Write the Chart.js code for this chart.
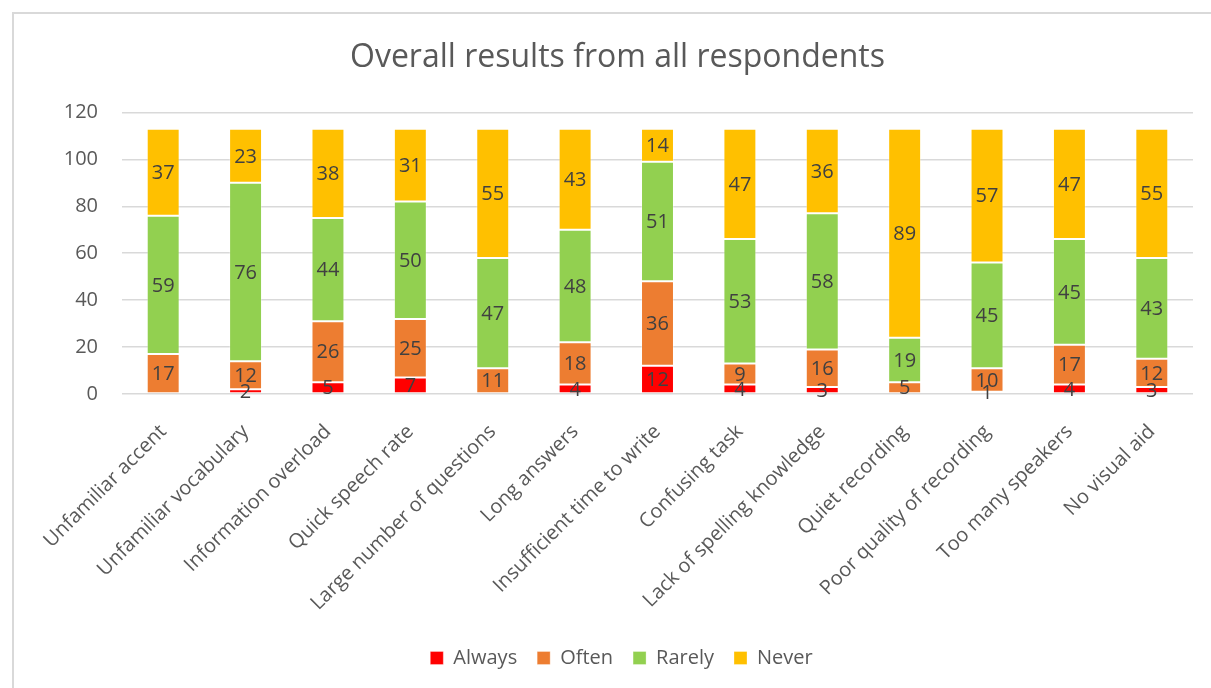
<!DOCTYPE html>
<html lang="en">
<head>
    <meta charset="UTF-8">
    <title>Overall results from all respondents</title>
    <script src="https://cdn.jsdelivr.net/npm/chart.js@4.4.1/dist/chart.umd.min.js"></script>
    <style>
        html, body { margin: 0; padding: 0; background: #fff; overflow: hidden; }
        #wrap { position: relative; width: 1211px; height: 688px; }
        #frame { position: absolute; left: 12px; top: 12px; width: 1300px; height: 800px;
                 border: 2px solid #d9d9d9; pointer-events: none; }
    </style>
</head>
<body>
    <div id="wrap">
        <canvas id="resultsChart" width="1211" height="688"></canvas>
        <div id="frame"></div>
    </div>

    <script>
        // values
        const categories = [
            'Unfamiliar accent', 'Unfamiliar vocabulary', 'Information overload',
            'Quick speech rate', 'Large number of questions', 'Long answers',
            'Insufficient time to write', 'Confusing task', 'Lack of spelling knowledge',
            'Quiet recording', 'Poor quality of recording', 'Too many speakers', 'No visual aid'
        ];
        const always = [0, 2, 5, 7, 0, 4, 12, 4, 3, 0, 1, 4, 3];
        const often  = [17, 12, 26, 25, 11, 18, 36, 9, 16, 5, 10, 17, 12];
        const rarely = [59, 76, 44, 50, 47, 48, 51, 53, 58, 19, 45, 45, 43];
        const never  = [37, 23, 38, 31, 55, 43, 14, 47, 36, 89, 57, 47, 55];
        const yTicks = [0, 20, 40, 60, 80, 100, 120];

        const FONT = "'Open Sans', sans-serif";

        // draws the value in the middle of each segment, like Excel's centre labels
        const segmentLabels = {
            id: 'segmentLabels',
            afterDatasetsDraw(chart) {
                const ctx = chart.ctx;
                ctx.save();
                ctx.font = "20px " + FONT;
                ctx.fillStyle = '#404040';
                ctx.textAlign = 'center';
                ctx.textBaseline = 'middle';
                chart.data.datasets.forEach((ds, i) => {
                    const meta = chart.getDatasetMeta(i);
                    meta.data.forEach((bar, j) => {
                        const v = ds.data[j];
                        if (!v) return;
                        const p = bar.getProps(['x', 'y', 'base'], true);
                        ctx.fillText(String(v), p.x, (p.y + p.base) / 2 + 1);
                    });
                });
                ctx.restore();
            }
        };

        // title and legend in the original sit a little right of centre
        const boxShift = {
            id: 'boxShift',
            afterLayout(chart) {
                if (chart.legend) chart.legend.left += 36;
                if (chart.titleBlock) chart.titleBlock.left += 28;
            }
        };

        const ctx = document.getElementById('resultsChart').getContext('2d');
        new Chart(ctx, {
            type: 'bar',
            data: {
                labels: categories,
                datasets: [
                    { label: 'Always', data: always, backgroundColor: '#ff0000' },
                    { label: 'Often', data: often, backgroundColor: '#ed7d31' },
                    { label: 'Rarely', data: rarely, backgroundColor: '#92d050' },
                    { label: 'Never', data: never, backgroundColor: '#ffc000' }
                ].map(d => Object.assign(d, {
                    borderColor: 'rgba(255,255,255,0.3)',
                    borderWidth: 1,
                    borderSkipped: false,
                    categoryPercentage: 0.4,
                    barPercentage: 1
                }))
            },
            options: {
                responsive: false,
                animation: false,
                layout: { padding: { left: 14, right: 18, top: 0, bottom: 10 } },
                scales: {
                    x: {
                        stacked: true,
                        grid: { display: false },
                        border: { display: false },
                        ticks: {
                            color: '#595959',
                            font: { family: FONT, size: 20 },
                            minRotation: 45,
                            maxRotation: 45,
                            padding: 18
                        },
                        afterFit(scale) {
                            scale.height = 234;
                            scale.paddingLeft = 0;
                            scale.paddingRight = 0;
                        }
                    },
                    y: {
                        stacked: true,
                        min: 0,
                        max: 120,
                        afterBuildTicks(scale) {
                            scale.ticks = yTicks.map(v => ({ value: v }));
                        },
                        grid: { color: '#d9d9d9', lineWidth: 1.5, drawTicks: false },
                        border: { display: false },
                        ticks: {
                            color: '#595959',
                            font: { family: FONT, size: 20 },
                            padding: 24
                        },
                        afterFit(scale) {
                            scale.width = 108;
                        }
                    }
                },
                plugins: {
                    title: {
                        display: true,
                        text: 'Overall results from all respondents',
                        color: '#595959',
                        font: { family: FONT, size: 32, weight: 'normal' },
                        padding: { top: 39, bottom: 35 }
                    },
                    legend: {
                        position: 'bottom',
                        labels: {
                            color: '#595959',
                            font: { family: FONT, size: 20 },
                            boxWidth: 13,
                            boxHeight: 13,
                            padding: 20
                        }
                    },
                    tooltip: { enabled: false }
                }
            },
            plugins: [segmentLabels, boxShift]
        });
    </script>
</body>
</html>
